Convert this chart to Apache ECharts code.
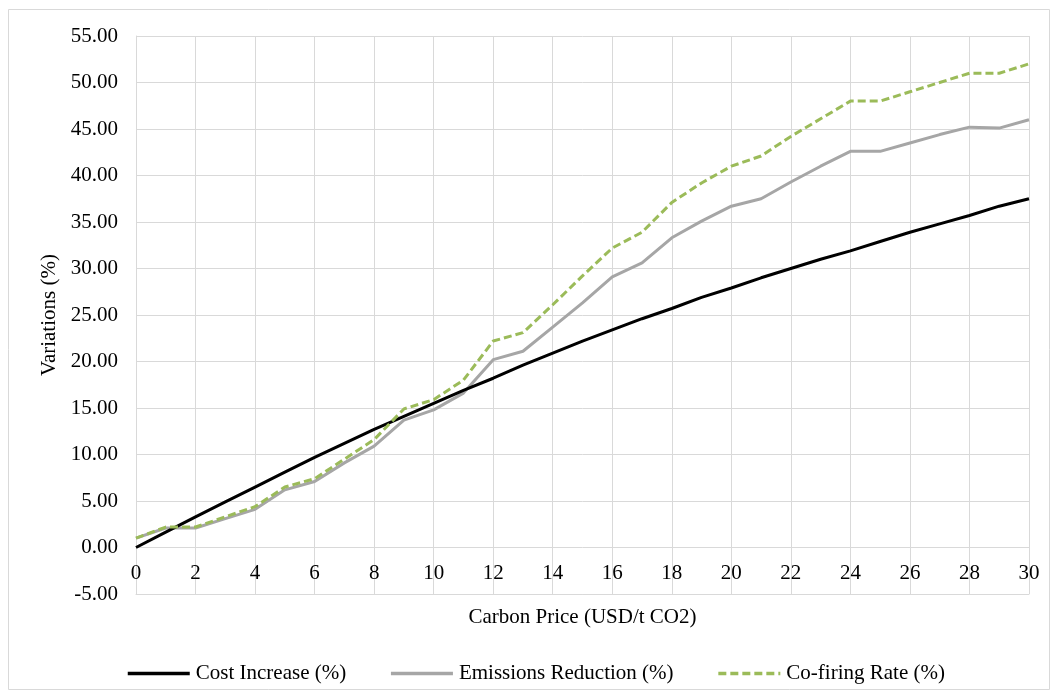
<!DOCTYPE html>
<html>
<head>
<meta charset="utf-8">
<script src="https://cdn.jsdelivr.net/npm/echarts@6/dist/echarts.min.js"></script>
<style>
  html, body { margin: 0; padding: 0; background: #fff; }
  #chart { width: 1058px; height: 697px; }
</style>
</head>
<body>
<div id="chart"></div>
<script>
// Carbon price steps (USD/t CO2)
const carbonPrice = [0,1,2,3,4,5,6,7,8,9,10,11,12,13,14,15,16,17,18,19,20,21,22,23,24,25,26,27,28,29,30];

// Variations (%) for each carbon price
const costIncrease = [0.0,1.65,3.3,4.9,6.5,8.1,9.7,11.2,12.7,14.1,15.5,16.9,18.2,19.6,20.9,22.2,23.4,24.6,25.7,26.9,27.9,29.0,30.0,31.0,31.9,32.9,33.9,34.8,35.7,36.7,37.5];
const emissionsReduction = [1.0,2.1,2.1,3.1,4.1,6.2,7.1,9.1,10.9,13.7,14.8,16.6,20.2,21.1,23.7,26.3,29.1,30.6,33.3,35.1,36.7,37.5,39.3,41.0,42.6,42.6,43.5,44.4,45.2,45.1,46.0];
const cofiringRate = [1.0,2.2,2.2,3.3,4.4,6.5,7.4,9.5,11.6,14.9,15.9,18.0,22.2,23.1,26.1,29.2,32.2,33.9,37.1,39.2,41.0,42.1,44.2,46.1,48.0,48.0,49.0,50.0,51.0,51.0,52.0];

const seriesNames = ['Cost Increase (%)', 'Emissions Reduction (%)', 'Co-firing Rate (%)'];

const font = 'Liberation Serif, Times New Roman, serif';
const fontSize = 21;
const gridColor = '#d9d9d9';

const chart = echarts.init(document.getElementById('chart'), null, { renderer: 'canvas' });

chart.setOption({
  backgroundColor: '#fff',
  animation: false,
  textStyle: { fontFamily: font, color: '#000' },
  graphic: [{
    type: 'rect',
    shape: { x: 8.5, y: 9.5, width: 1041, height: 680 },
    style: { fill: 'none', stroke: gridColor, lineWidth: 1 },
    silent: true,
    z: -1
  }],
  grid: { left: 136, right: 29, top: 36, bottom: 103, containLabel: false },
  legend: {
    bottom: 8,
    left: 121,
    itemWidth: 62,
    itemHeight: 10,
    itemGap: 43,
    itemStyle: { opacity: 0 },
    lineStyle: { width: 3.5 },
    textStyle: { fontFamily: font, fontSize: fontSize, color: '#000', padding: [0, 0, 0, 1] },
    data: seriesNames
  },
  xAxis: {
    type: 'category',
    data: carbonPrice,
    boundaryGap: false,
    name: 'Carbon Price (USD/t CO2)',
    nameLocation: 'middle',
    nameGap: 13,
    nameTextStyle: { fontFamily: font, fontSize: fontSize, color: '#000' },
    axisLine: { onZero: false, lineStyle: { color: gridColor, width: 1 } },
    axisTick: { show: false },
    axisLabel: { interval: 1, inside: true, fontFamily: font, fontSize: fontSize, color: '#000', margin: 10 },
    splitLine: { show: true, interval: 1, lineStyle: { color: gridColor, width: 1 } }
  },
  yAxis: {
    type: 'value',
    min: -5,
    max: 55,
    interval: 5,
    name: 'Variations (%)',
    nameLocation: 'middle',
    nameGap: 70,
    nameRotate: 90,
    nameTextStyle: { fontFamily: font, fontSize: fontSize, color: '#000' },
    axisLine: { show: true, lineStyle: { color: gridColor, width: 1 } },
    axisTick: { show: false },
    axisLabel: {
      fontFamily: font, fontSize: fontSize, color: '#000', margin: 18,
      formatter: v => v.toFixed(2)
    },
    splitLine: { show: true, lineStyle: { color: gridColor, width: 1 } }
  },
  series: [
    {
      name: seriesNames[0], type: 'line', data: costIncrease,
      symbol: 'none', lineStyle: { color: '#000000', width: 3 },
      itemStyle: { color: '#000000' }, z: 3
    },
    {
      name: seriesNames[1], type: 'line', data: emissionsReduction,
      symbol: 'none', lineStyle: { color: '#a6a6a6', width: 3 },
      itemStyle: { color: '#a6a6a6' }, z: 2
    },
    {
      name: seriesNames[2], type: 'line', data: cofiringRate,
      symbol: 'none', lineStyle: { color: '#9bbb59', width: 3, type: [8, 4] },
      itemStyle: { color: '#9bbb59' }, z: 4
    }
  ]
});
</script>
</body>
</html>
